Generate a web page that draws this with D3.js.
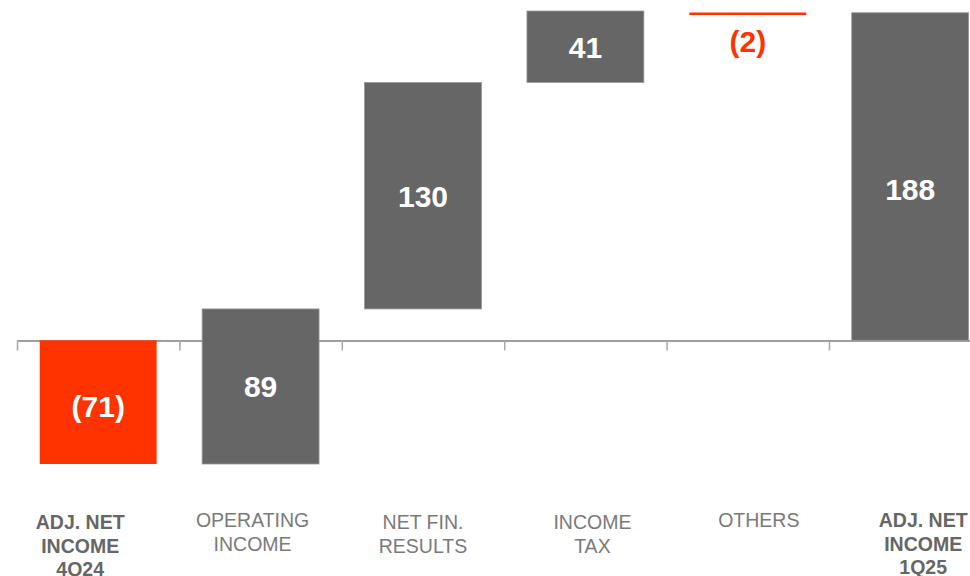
<!DOCTYPE html>
<html>
<head>
<meta charset="utf-8">
<script src="https://cdn.jsdelivr.net/npm/d3@7"></script>
<style>
  body { margin: 0; background: #fff; }
  svg { font-family: "Liberation Sans", Arial, sans-serif; }
</style>
</head>
<body>
<svg id="chart"></svg>
<script>
// Data
const categories = ["ADJ. NET INCOME 4Q24", "OPERATING INCOME", "NET FIN. RESULTS", "INCOME TAX", "OTHERS", "ADJ. NET INCOME 1Q25"];
const labelLines = [["ADJ. NET", "INCOME", "4Q24"], ["OPERATING", "INCOME"], ["NET FIN.", "RESULTS"], ["INCOME", "TAX"], ["OTHERS"], ["ADJ. NET", "INCOME", "1Q25"]];
const values = [-71, 89, 130, 41, -2, 188];
const isTotal = [true, false, false, false, false, true];
const valueLabels = ["(71)", "89", "130", "41", "(2)", "188"];

const width = 970, height = 576;

const svg = d3.select("#chart")
    .attr("width", width)
    .attr("height", height);

// compute waterfall steps
let running = 0;
const steps = values.map((v, i) => {
    let start, end;
    if (isTotal[i]) { start = 0; end = v; running = v; }
    else { start = running; end = running + v; running = end; }
    return { cat: categories[i], v, start, end, i };
});

const step = 162.4, left = 17;
const x = d3.scaleBand()
    .domain(categories)
    .range([left, left + step * categories.length])
    .paddingInner(0.28)
    .paddingOuter(0.14);

const y = d3.scaleLinear()
    .domain([-71, 189])
    .range([464, 11]);

// axis with ticks between categories
const xIdx = d3.scaleLinear().domain([0, categories.length]).range([left, left + step * categories.length]);
const axis = svg.append("g")
    .attr("transform", `translate(0,${Math.round(y(0)) + 0.5})`)
    .call(d3.axisBottom(xIdx).tickValues(d3.range(0, 6)).tickSize(10).tickSizeOuter(0).tickFormat(""));
axis.select(".domain").attr("stroke", "#7f7f7f").attr("stroke-width", 1.5);
axis.selectAll(".tick line").attr("stroke", "#a6a6a6").attr("stroke-width", 1.5);

const red = "#ff3300", grey = "#666666";

// bars
svg.selectAll(".bar")
    .data(steps)
    .enter()
    .append("rect")
    .attr("class", "bar")
    .attr("x", d => x(d.cat))
    .attr("width", x.bandwidth())
    .attr("y", d => d.i === 4 ? y(d.start) + 1.5 : y(Math.max(d.start, d.end)))
    .attr("height", d => d.i === 4 ? 2.5 : Math.abs(y(d.start) - y(d.end)))
    .attr("fill", d => d.v < 0 ? red : grey)
    .attr("stroke", d => d.v < 0 ? "none" : "#9a9a9a")
    .attr("stroke-width", 0.8);

// value labels
svg.selectAll(".val")
    .data(steps)
    .enter()
    .append("text")
    .attr("class", "val")
    .attr("x", d => x(d.cat) + x.bandwidth() / 2)
    .attr("y", d => {
        if (d.i === 4) return y(d.end) + 38;
        if (d.i === 0) return (y(d.start) + y(d.end)) / 2 + 15;
        if (d.i === 5) return (y(d.start) + y(d.end)) / 2 + 23;
        return (y(d.start) + y(d.end)) / 2 + 11;
    })
    .attr("text-anchor", "middle")
    .attr("font-size", 30)
    .attr("font-weight", "bold")
    .attr("fill", d => d.i === 4 ? red : "#ffffff")
    .text(d => valueLabels[d.i]);

// category labels
const labelShift = [-18, -8, 0, 7, 11, 13];
const cat = svg.selectAll(".cat")
    .data(steps)
    .enter()
    .append("text")
    .attr("class", "cat")
    .attr("text-anchor", "middle")
    .attr("font-size", 19.5)
    .attr("font-weight", d => isTotal[d.i] ? "bold" : "normal")
    .attr("fill", d => isTotal[d.i] ? "#666666" : "#7a7a7a")
    .attr("x", d => x(d.cat) + x.bandwidth() / 2 + labelShift[d.i])
    .attr("y", d => (d.i === 1 || d.i === 4 || d.i === 5) ? 527 : 529);

cat.selectAll("tspan")
    .data(d => labelLines[d.i].map(t => ({ t, xx: x(d.cat) + x.bandwidth() / 2 + labelShift[d.i] })))
    .enter()
    .append("tspan")
    .attr("x", d => d.xx)
    .attr("dy", (d, j) => j === 0 ? 0 : 23.5)
    .text(d => d.t);
</script>
</body>
</html>
